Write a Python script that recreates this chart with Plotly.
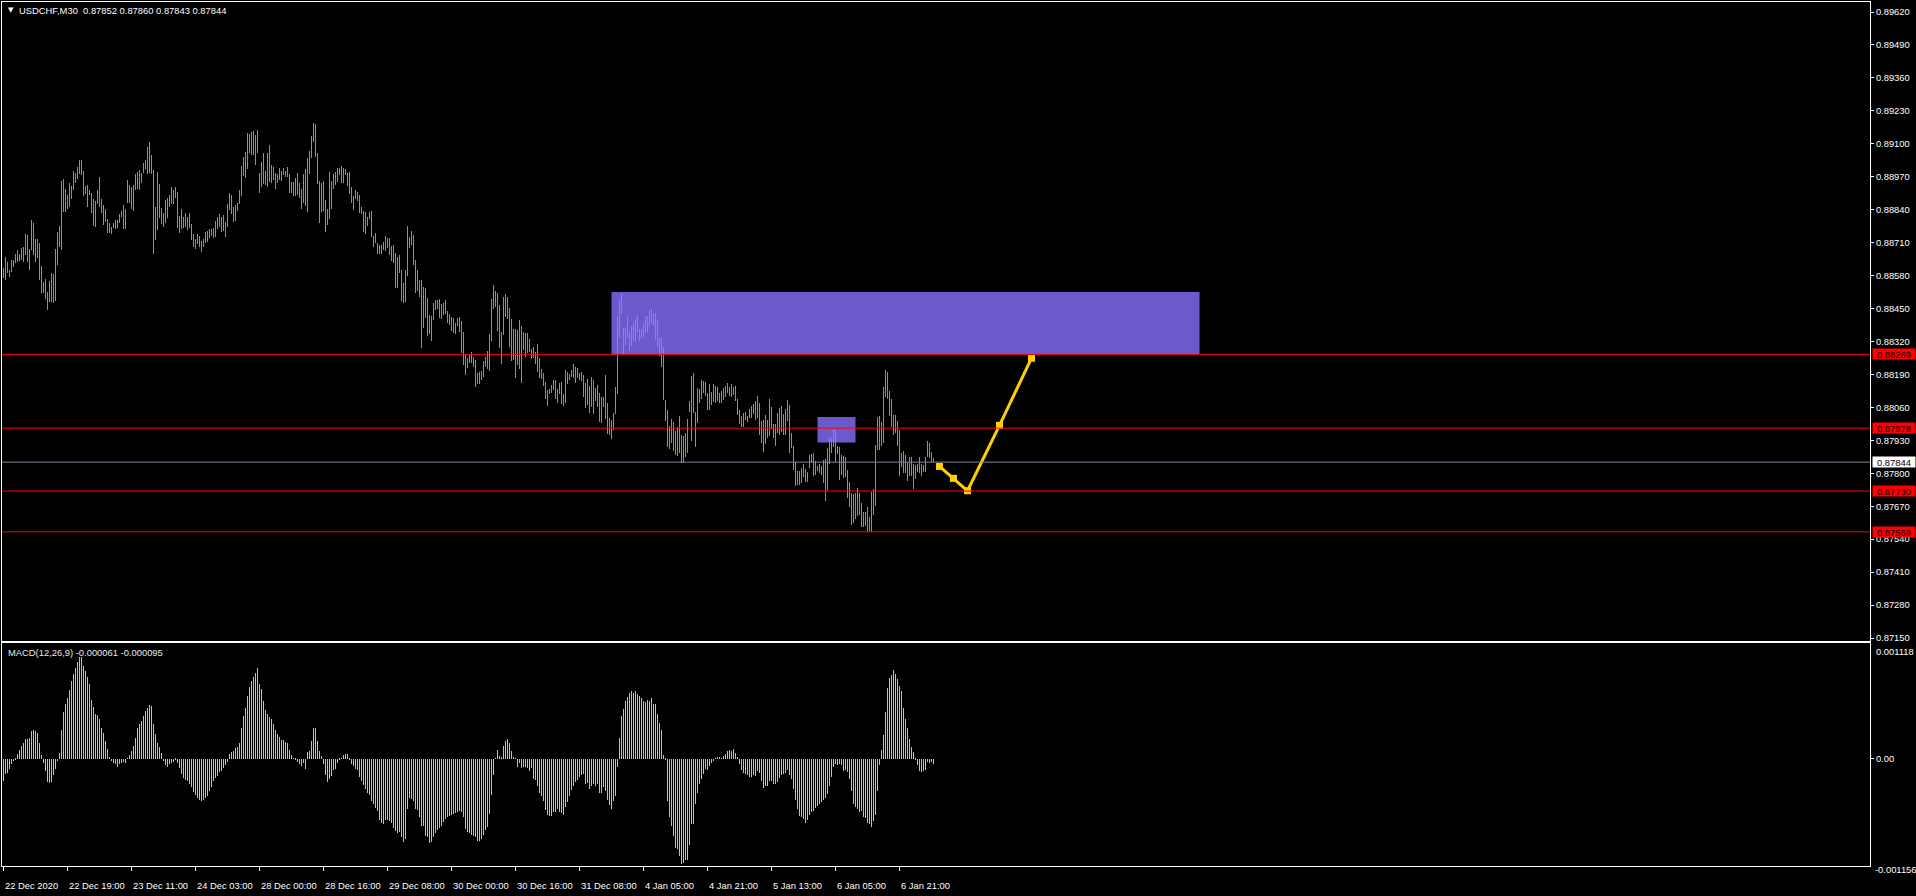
import plotly.graph_objects as go

# ---------------- data (USDCHF M30, bar index 0 = 22 Dec 2020 03:00) ----------------
HIGH = [
0.88608,0.88654,0.88635,0.88602,0.88641,0.88641,0.88665,0.88681,0.88665,0.88689,
0.88694,0.88744,0.88740,0.88683,0.88799,0.88786,0.88724,0.88723,0.88710,0.88618,
0.88556,0.88565,0.88516,0.88558,0.88591,0.88586,0.88685,0.88752,0.88775,0.88953,
0.88961,0.88921,0.88898,0.88946,0.88933,0.88992,0.88983,0.89009,0.89038,0.89038,
0.88992,0.88933,0.88937,0.88917,0.88904,0.88881,0.88875,0.88917,0.88970,0.88881,
0.88858,0.88844,0.88803,0.88789,0.88773,0.88789,0.88799,0.88799,0.88823,0.88833,
0.88858,0.88844,0.88957,0.88937,0.88928,0.88937,0.88981,0.88988,0.88996,0.88983,
0.89025,0.89036,0.89088,0.89107,0.89055,0.88996,0.88852,0.88990,0.88941,0.88845,
0.88828,0.88878,0.88885,0.88898,0.88931,0.88917,0.88928,0.88911,0.88815,0.88841,
0.88810,0.88828,0.88812,0.88828,0.88783,0.88746,0.88723,0.88744,0.88736,0.88718,
0.88723,0.88752,0.88757,0.88762,0.88762,0.88768,0.88796,0.88810,0.88825,0.88810,
0.88818,0.88792,0.88862,0.88904,0.88898,0.88852,0.88858,0.88867,0.88917,0.89012,
0.89046,0.89069,0.89141,0.89138,0.89148,0.89150,0.89134,0.89154,0.88986,0.89029,
0.89062,0.88994,0.89065,0.89095,0.89016,0.89009,0.88983,0.88981,0.89003,0.88992,
0.89003,0.88992,0.89007,0.88981,0.88950,0.88950,0.88966,0.88983,0.88946,0.88920,
0.88981,0.88999,0.89045,0.89073,0.89130,0.89183,0.89180,0.89065,0.88953,0.88944,
0.88954,0.88878,0.88841,0.88988,0.88953,0.88979,0.88988,0.89003,0.89003,0.89012,
0.89003,0.88999,0.88983,0.88990,0.88931,0.88894,0.88917,0.88911,0.88898,0.88852,
0.88836,0.88832,0.88812,0.88832,0.88836,0.88736,0.88749,0.88707,0.88700,0.88700,
0.88714,0.88736,0.88727,0.88727,0.88696,0.88700,0.88670,0.88654,0.88661,0.88604,
0.88552,0.88602,0.88775,0.88733,0.88757,0.88740,0.88641,0.88602,0.88562,0.88562,
0.88536,0.88530,0.88490,0.88424,0.88420,0.88470,0.88483,0.88483,0.88487,0.88466,
0.88473,0.88483,0.88441,0.88428,0.88415,0.88414,0.88391,0.88414,0.88418,0.88402,
0.88359,0.88269,0.88253,0.88267,
0.88278,0.88260,0.88247,0.88197,0.88201,0.88203,0.88244,0.88260,0.88284,0.88349,
0.88486,0.88543,0.88519,0.88510,0.88464,0.88359,0.88497,0.88507,0.88494,0.88452,
0.88408,0.88368,0.88369,0.88365,0.88405,0.88381,0.88357,0.88355,0.88352,0.88328,
0.88290,0.88299,0.88278,0.88310,0.88253,0.88213,0.88197,0.88161,0.88128,0.88132,
0.88148,0.88168,0.88168,0.88131,0.88155,0.88159,0.88113,0.88207,0.88201,0.88190,
0.88207,0.88231,0.88220,0.88216,0.88197,0.88199,0.88188,0.88157,0.88173,0.88144,
0.88178,0.88170,0.88135,0.88148,0.88118,0.88102,0.88102,0.88188,0.88076,0.88017,
0.88010,0.88039,0.88142,0.88420,0.88483,0.88507,0.88372,0.88373,0.88422,0.88359,
0.88381,0.88391,0.88410,0.88424,0.88370,0.88368,0.88389,0.88415,0.88420,0.88444,
0.88448,0.88427,0.88431,0.88405,0.88335,0.88332,0.88299,0.88089,0.88050,0.87986,
0.88013,0.88004,0.87968,0.87984,0.88026,0.87950,0.87947,0.87960,0.88013,0.88086,
0.88185,0.88194,0.88043,0.88135,0.88131,0.88168,0.88164,0.88161,0.88115,0.88152,
0.88122,0.88152,0.88144,0.88142,0.88115,0.88124,0.88135,0.88144,0.88155,0.88139,
0.88152,0.88142,0.88144,0.88092,0.88050,0.88026,0.88039,0.88043,0.88026,0.88052,
0.88065,0.88073,0.88086,0.88105,0.88078,0.88007,0.88010,0.88030,0.88010,0.88092,
0.88063,0.87994,0.87994,0.88036,0.88059,0.88065,0.88034,0.88052,0.88089,0.88069,
0.87960,0.87908,0.87846,0.87810,0.87810,0.87819,0.87836,0.87815,0.87806,0.87872,
0.87876,0.87879,0.87850,0.87829,0.87836,0.87829,0.87852,0.87855,0.87898,0.87944,
0.87938,0.87973,0.87971,0.87908,0.87905,0.87872,0.87868,0.87863,0.87813,0.87767,
0.87721,0.87718,0.87721,0.87740,0.87721,0.87681,0.87648,0.87648,0.87668,0.87626,
0.87727,0.87736,0.87911,0.88021,0.88026,0.88004,0.88142,0.88207,0.88201,0.88126,
0.88092,0.88030,0.88030,0.88007,0.87971,0.87879,0.87889,0.87872,0.87839,0.87863,
0.87865,0.87836,0.87833,0.87836,0.87865,0.87836,0.87833,0.87865,0.87929,0.87921,
0.87885,0.87860,
]

LOW = [
0.88569,0.88562,0.88589,0.88576,0.88595,0.88615,0.88628,0.88635,0.88639,0.88641,
0.88635,0.88661,0.88635,0.88602,0.88681,0.88661,0.88635,0.88648,0.88562,0.88512,
0.88512,0.88486,0.88444,0.88477,0.88477,0.88473,0.88481,0.88622,0.88694,0.88681,
0.88832,0.88832,0.88841,0.88849,0.88881,0.88917,0.88946,0.88963,0.88979,0.88977,
0.88894,0.88902,0.88849,0.88898,0.88828,0.88775,0.88773,0.88862,0.88852,0.88828,
0.88779,0.88792,0.88749,0.88749,0.88744,0.88766,0.88764,0.88766,0.88786,0.88812,
0.88764,0.88764,0.88867,0.88865,0.88841,0.88835,0.88917,0.88920,0.88917,0.88946,
0.88986,0.88999,0.88981,0.88983,0.88981,0.88665,0.88720,0.88760,0.88808,0.88783,
0.88773,0.88786,0.88806,0.88852,0.88861,0.88862,0.88885,0.88766,0.88749,0.88762,
0.88766,0.88773,0.88760,0.88766,0.88720,0.88691,0.88683,0.88704,0.88691,0.88674,
0.88694,0.88710,0.88714,0.88727,0.88736,0.88727,0.88733,0.88762,0.88773,0.88752,
0.88757,0.88733,0.88770,0.88839,0.88823,0.88792,0.88796,0.88836,0.88862,0.88894,
0.88973,0.88966,0.89002,0.89065,0.89054,0.89055,0.89016,0.89065,0.88907,0.88928,
0.88941,0.88937,0.88931,0.88950,0.88946,0.88957,0.88921,0.88946,0.88957,0.88954,
0.88977,0.88970,0.88970,0.88907,0.88904,0.88894,0.88894,0.88898,0.88888,0.88844,
0.88865,0.88854,0.88832,0.88979,0.89045,0.89108,0.89049,0.88940,0.88786,0.88832,
0.88835,0.88753,0.88779,0.88802,0.88841,0.88920,0.88937,0.88950,0.88977,0.88944,
0.88946,0.88977,0.88933,0.88902,0.88867,0.88839,0.88881,0.88875,0.88828,0.88825,
0.88753,0.88746,0.88775,0.88802,0.88731,0.88691,0.88707,0.88665,0.88665,0.88665,
0.88681,0.88678,0.88687,0.88661,0.88639,0.88628,0.88532,0.88532,0.88591,0.88481,
0.88473,0.88474,0.88579,0.88687,0.88700,0.88622,0.88512,0.88519,0.88497,0.88295,
0.88372,0.88411,0.88341,0.88349,0.88322,0.88405,0.88444,0.88447,0.88411,0.88407,
0.88424,0.88428,0.88391,0.88387,0.88362,0.88355,0.88349,0.88381,0.88359,0.88273,
0.88227,0.88188,0.88216,0.88234,
0.88236,0.88220,0.88142,0.88152,0.88152,0.88170,0.88181,0.88220,0.88210,0.88203,
0.88323,0.88447,0.88457,0.88362,0.88295,0.88231,0.88345,0.88418,0.88407,0.88297,
0.88244,0.88247,0.88177,0.88227,0.88210,0.88157,0.88286,0.88260,0.88273,0.88280,
0.88249,0.88253,0.88231,0.88201,0.88174,0.88173,0.88144,0.88092,0.88065,0.88111,
0.88115,0.88128,0.88092,0.88076,0.88113,0.88073,0.88065,0.88076,0.88152,0.88168,
0.88178,0.88174,0.88155,0.88177,0.88170,0.88165,0.88100,0.88056,0.88069,0.88036,
0.88060,0.88034,0.88086,0.88063,0.88004,0.88000,0.88063,0.88013,0.87955,0.87951,
0.87934,0.87971,0.88034,0.88113,0.88334,0.88428,0.88270,0.88306,0.88332,0.88284,
0.88302,0.88323,0.88319,0.88359,0.88323,0.88328,0.88339,0.88352,0.88359,0.88378,
0.88394,0.88381,0.88326,0.88297,0.88263,0.88220,0.88089,0.88007,0.87902,0.87894,
0.87921,0.87889,0.87872,0.87868,0.87881,0.87839,0.87839,0.87865,0.87881,0.88043,
0.87929,0.88039,0.87905,0.87997,0.88076,0.88092,0.88115,0.88105,0.88050,0.88050,
0.88069,0.88082,0.88076,0.88085,0.88076,0.88076,0.88089,0.88100,0.88115,0.88105,
0.88102,0.88109,0.88086,0.88030,0.87994,0.87981,0.87984,0.88010,0.88004,0.88017,
0.88017,0.88034,0.88010,0.88017,0.87951,0.87921,0.87885,0.87915,0.87938,0.87947,
0.87973,0.87938,0.87908,0.87957,0.87951,0.87964,0.87951,0.87951,0.88007,0.87881,
0.87898,0.87813,0.87750,0.87754,0.87754,0.87760,0.87784,0.87767,0.87767,0.87819,
0.87839,0.87789,0.87793,0.87810,0.87800,0.87793,0.87760,0.87692,0.87731,0.87836,
0.87879,0.87905,0.87846,0.87876,0.87773,0.87793,0.87780,0.87787,0.87701,0.87668,
0.87596,0.87602,0.87618,0.87631,0.87635,0.87589,0.87589,0.87592,0.87570,0.87570,
0.87570,0.87635,0.87671,0.87892,0.87892,0.87908,0.87918,0.88100,0.88092,0.88026,
0.87984,0.87951,0.87960,0.87908,0.87789,0.87823,0.87800,0.87802,0.87771,0.87789,
0.87789,0.87736,0.87776,0.87806,0.87800,0.87789,0.87806,0.87806,0.87863,0.87859,
0.87846,0.87843,
]

MACD = [
-0.000245,-0.000172,-0.000154,-0.000117,-0.000062,-0.000026,-0.000007,0.000048,0.000091,0.000139,
0.000168,0.000219,0.000212,0.000223,0.000303,0.000311,0.000303,0.000285,0.000168,0.000037,
-0.000044,-0.000135,-0.000263,-0.000274,-0.000263,-0.000179,-0.000117,-0.000026,0.000058,0.000311,
0.000505,0.000596,0.000662,0.000749,0.000845,0.000932,0.000998,0.001053,0.001118,0.001108,
0.001016,0.000962,0.000896,0.000815,0.000640,0.000567,0.000486,0.000479,0.000431,0.000340,
0.000285,0.000194,0.000102,0.000018,-0.000026,-0.000044,-0.000062,-0.000091,-0.000055,-0.000044,
-0.000033,-0.000044,0.000004,0.000037,0.000084,0.000139,0.000230,0.000333,0.000377,0.000413,
0.000468,0.000523,0.000559,0.000585,0.000578,0.000377,0.000267,0.000165,0.000121,0.000055,
-0.000026,-0.000069,-0.000088,-0.000062,-0.000044,-0.000033,-0.000007,-0.000051,-0.000106,-0.000165,
-0.000216,-0.000238,-0.000252,-0.000282,-0.000318,-0.000362,-0.000399,-0.000428,-0.000453,-0.000464,
-0.000457,-0.000435,-0.000409,-0.000355,-0.000311,-0.000252,-0.000216,-0.000190,-0.000143,-0.000135,
-0.000099,-0.000069,-0.000033,0.000048,0.000066,0.000084,0.000113,0.000128,0.000172,0.000333,
0.000468,0.000559,0.000687,0.000786,0.000845,0.000896,0.000943,0.000991,0.000815,0.000760,
0.000632,0.000530,0.000486,0.000457,0.000431,0.000377,0.000311,0.000274,0.000238,0.000205,
0.000201,0.000186,0.000165,0.000091,0.000040,0.000002,-0.000007,-0.000033,-0.000055,-0.000080,
-0.000044,-0.000110,0.000066,0.000084,0.000194,0.000340,0.000340,0.000194,0.000077,0.000029,
-0.000062,-0.000183,-0.000263,-0.000227,-0.000197,-0.000128,-0.000117,-0.000044,-0.000018,-0.000004,
0.000040,0.000048,0.000048,-0.000007,-0.000062,-0.000080,-0.000117,-0.000128,-0.000208,-0.000245,
-0.000292,-0.000336,-0.000373,-0.000399,-0.000464,-0.000494,-0.000545,-0.000581,-0.000676,-0.000702,
-0.000713,-0.000676,-0.000676,-0.000684,-0.000702,-0.000757,-0.000793,-0.000812,-0.000801,-0.000866,
-0.000921,-0.000885,-0.000556,-0.000428,-0.000446,-0.000464,-0.000556,-0.000567,-0.000647,-0.000739,
-0.000739,-0.000848,-0.000866,-0.000932,-0.000921,-0.000866,-0.000812,-0.000786,-0.000757,-0.000739,
-0.000691,-0.000665,-0.000640,-0.000629,-0.000618,-0.000611,-0.000603,-0.000592,-0.000581,-0.000592,
-0.000640,-0.000768,-0.000804,-0.000815,-0.000837,-0.000848,-0.000859,-0.000903,-0.000903,-0.000885,
-0.000837,-0.000786,-0.000749,-0.000611,-0.000399,-0.000179,-0.000004,0.000091,0.000026,0.000018,
0.000139,0.000194,0.000212,0.000168,0.000084,0.000011,0.000004,-0.000091,-0.000044,-0.000106,
-0.000091,-0.000091,-0.000106,-0.000135,-0.000099,-0.000227,-0.000238,-0.000300,-0.000373,-0.000409,
-0.000464,-0.000567,-0.000618,-0.000629,-0.000629,-0.000592,-0.000592,-0.000556,-0.000592,-0.000600,
-0.000618,-0.000537,-0.000472,-0.000409,-0.000347,-0.000300,-0.000263,-0.000238,-0.000208,-0.000179,
-0.000172,-0.000282,-0.000274,-0.000336,-0.000300,-0.000282,-0.000300,-0.000282,-0.000373,-0.000373,
-0.000318,-0.000355,-0.000457,-0.000508,-0.000556,-0.000464,-0.000409,-0.000091,0.000223,0.000468,
0.000541,0.000632,0.000676,0.000713,0.000742,0.000713,0.000742,0.000706,0.000687,0.000662,
0.000632,0.000625,0.000640,0.000632,0.000662,0.000596,0.000596,0.000486,0.000388,0.000311,
0.000037,-0.000007,-0.000464,-0.000640,-0.000739,-0.000848,-0.000983,-0.000994,-0.001068,-0.001156,
-0.001141,-0.001115,-0.001115,-0.000947,-0.000713,-0.000720,-0.000501,-0.000373,-0.000282,-0.000227,
-0.000165,-0.000117,-0.000128,-0.000080,-0.000044,-0.000026,-0.000004,0.000011,0.000011,0.000004,
0.000029,0.000048,0.000077,0.000091,0.000084,0.000102,0.000062,0.000018,-0.000055,-0.000128,
-0.000154,-0.000165,-0.000179,-0.000201,-0.000201,-0.000179,-0.000190,-0.000135,-0.000154,-0.000245,
-0.000325,-0.000300,-0.000300,-0.000245,-0.000252,-0.000282,-0.000282,-0.000263,-0.000216,-0.000179,
-0.000165,-0.000154,-0.000128,-0.000179,-0.000227,-0.000336,-0.000457,-0.000556,-0.000629,-0.000640,
-0.000665,-0.000702,-0.000676,-0.000618,-0.000592,-0.000574,-0.000545,-0.000519,-0.000494,-0.000472,
-0.000457,-0.000428,-0.000391,-0.000300,-0.000201,-0.000091,-0.000062,-0.000069,-0.000062,-0.000069,
-0.000135,-0.000128,-0.000143,-0.000227,-0.000355,-0.000501,-0.000530,-0.000556,-0.000592,-0.000581,
-0.000647,-0.000654,-0.000702,-0.000720,-0.000749,-0.000684,-0.000618,-0.000355,-0.000069,0.000091,
0.000260,0.000505,0.000771,0.000888,0.000918,0.000969,0.000925,0.000870,0.000797,0.000742,
0.000559,0.000431,0.000333,0.000212,0.000128,0.000066,-0.000018,-0.000069,-0.000135,-0.000143,
-0.000135,-0.000128,-0.000033,-0.000044,-0.000033,-0.000061,
]

LEVELS = [0.88269, 0.87978, 0.87730, 0.87569]          # red horizontal lines
BID = 0.87844                                           # current price line
ZONE_X0 = [304, 407]                                    # rectangles (bar index)
ZONE_X1 = [598, 426]
ZONE_LO = [0.88269, 0.87921]
ZONE_HI = [0.88515, 0.88022]
PROJ_X = [468, 475, 482, 498, 514]                      # projected path
PROJ_Y = [0.87827, 0.87780, 0.87731, 0.87989, 0.88254]
PRICE_TICKS = [0.87150, 0.87280, 0.87410, 0.87540, 0.87670, 0.87800, 0.87930,
               0.88060, 0.88190, 0.88320, 0.88450, 0.88580, 0.88710, 0.88840,
               0.88970, 0.89100, 0.89230, 0.89360, 0.89490, 0.89620]
TIME_IDX = [0, 32, 64, 96, 128, 160, 192, 224, 256, 288, 320, 352, 384, 416, 448]
TIME_LABELS = ["22 Dec 2020", "22 Dec 19:00", "23 Dec 11:00", "24 Dec 03:00",
               "28 Dec 00:00", "28 Dec 16:00", "29 Dec 08:00", "30 Dec 00:00",
               "30 Dec 16:00", "31 Dec 08:00", "4 Jan 05:00", "4 Jan 21:00",
               "5 Jan 13:00", "6 Jan 05:00", "6 Jan 21:00"]
MACD_MAX_LABEL = "0.001118"
MACD_MIN_LABEL = "-0.001156"
TITLE = "USDCHF,M30  0.87852 0.87860 0.87843 0.87844"
MACD_TITLE = "MACD(12,26,9) -0.000061 -0.000095"

# ---------------- styling ----------------
FONT = "Liberation Sans"
FS = 9.4
GREEN = "#1ee01e"
W, H = 1916, 896
ML, MR, MT, MB = 2, 46, 2, 30

idx = list(range(len(HIGH)))
spans = [h - l for h, l in zip(HIGH, LOW)]

fig = go.Figure()
fig.add_trace(go.Bar(x=idx, y=spans, base=LOW, width=0.5,
                     marker=dict(color=GREEN, line=dict(width=0)),
                     xaxis="x", yaxis="y", hoverinfo="skip"))
fig.add_trace(go.Bar(x=idx, y=MACD, width=0.5,
                     marker=dict(color="#c0c0c0", line=dict(width=0)),
                     xaxis="x2", yaxis="y2", hoverinfo="skip"))
fig.add_trace(go.Scatter(x=PROJ_X, y=PROJ_Y, mode="lines+markers",
                         line=dict(color="#ffd000", width=3),
                         marker=dict(symbol="square", size=7, color="#ffd000"),
                         xaxis="x", yaxis="y", hoverinfo="skip"))

shapes = []
for x0, x1, lo, hi in zip(ZONE_X0, ZONE_X1, ZONE_LO, ZONE_HI):
    shapes.append(dict(type="rect", xref="x", yref="y", x0=x0, x1=x1, y0=lo, y1=hi,
                       fillcolor="#6a5acd", line=dict(width=0), layer="below"))
for lv in LEVELS:
    shapes.append(dict(type="line", xref="x domain", yref="y", x0=0, x1=1, y0=lv, y1=lv,
                       line=dict(color="#ff0000", width=1)))
shapes.append(dict(type="line", xref="x domain", yref="y", x0=0, x1=1, y0=BID, y1=BID,
                   line=dict(color="#778899", width=1)))

ann = []
for lv in LEVELS:
    ann.append(dict(xref="paper", yref="y", x=1, y=lv, xanchor="left", yanchor="middle",
                    xshift=2, text=f"{lv:.5f}", showarrow=False, bgcolor="#ff0000",
                    borderpad=0, width=42, height=10, align="center",
                    font=dict(family=FONT, size=FS, color="#000000")))
ann.append(dict(xref="paper", yref="y", x=1, y=BID, xanchor="left", yanchor="middle",
                xshift=2, text=f"{BID:.5f}", showarrow=False, bgcolor="#ffffff",
                borderpad=0, width=42, height=10, align="center",
                font=dict(family=FONT, size=FS, color="#000000")))
ann.append(dict(xref="paper", yref="paper", x=0, y=1, xanchor="left", yanchor="middle",
                xshift=4, yshift=-8, text="▼", showarrow=False,
                font=dict(family="DejaVu Sans", size=7, color="#ffffff")))
ann.append(dict(xref="paper", yref="paper", x=0, y=1, xanchor="left", yanchor="middle",
                xshift=15, yshift=-8, text=TITLE, showarrow=False,
                font=dict(family=FONT, size=FS, color="#ffffff")))
ann.append(dict(xref="paper", yref="y2 domain", x=0, y=1, xanchor="left", yanchor="middle",
                xshift=4, yshift=-9, text=MACD_TITLE, showarrow=False,
                font=dict(family=FONT, size=FS, color="#e8e8e8")))
ann.append(dict(xref="paper", yref="y2 domain", x=1, y=1, xanchor="left", yanchor="middle",
                xshift=4, yshift=-8, text=MACD_MAX_LABEL, showarrow=False,
                font=dict(family=FONT, size=FS, color="#ffffff")))
ann.append(dict(xref="paper", yref="y2 domain", x=1, y=0, xanchor="left", yanchor="middle",
                xshift=3, yshift=-3, text=MACD_MIN_LABEL, showarrow=False,
                font=dict(family=FONT, size=FS, color="#ffffff")))
for ti, tl in zip(TIME_IDX, TIME_LABELS):
    ann.append(dict(xref="x2", yref="paper", x=ti, y=0, xanchor="left", yanchor="middle",
                    xshift=-1, yshift=-19, text=tl, showarrow=False,
                    font=dict(family=FONT, size=FS, color="#ffffff")))

plot_h = H - MT - MB
main_dom = [(866 - 641) / plot_h, 1.0]
macd_dom = [0.0, (866 - 643) / plot_h]
xr = [-0.75, -0.75 + (W - ML - MR) / 2]

axis_common = dict(showgrid=False, zeroline=False, showline=True, mirror=True,
                   linecolor="#ffffff", linewidth=1, automargin=False)

fig.update_layout(
    width=W, height=H, margin=dict(l=ML, r=MR, t=MT, b=MB, pad=0),
    paper_bgcolor="#000000", plot_bgcolor="#000000",
    showlegend=False, barmode="overlay", bargap=0,
    shapes=shapes, annotations=ann,
    xaxis=dict(axis_common, domain=[0, 1], range=xr, anchor="y",
               showticklabels=False, ticks=""),
    yaxis=dict(axis_common, domain=main_dom, range=[0.871382, 0.896595], side="right",
               anchor="x", tickvals=PRICE_TICKS, ticktext=[f"{v:.5f}" for v in PRICE_TICKS],
               ticks="outside", ticklen=3, tickcolor="#ffffff",
               tickfont=dict(family=FONT, size=FS, color="#ffffff")),
    xaxis2=dict(axis_common, domain=[0, 1], range=xr, anchor="y2", matches=None,
                tickvals=TIME_IDX, ticks="outside", ticklen=4, tickcolor="#ffffff",
                showticklabels=False),
    yaxis2=dict(axis_common, domain=macd_dom, range=[-0.0011791, 0.0012668], side="right",
                anchor="x2", tickvals=[0], ticktext=["0.00"], ticks="outside", ticklen=3,
                tickcolor="#ffffff", tickfont=dict(family=FONT, size=FS, color="#ffffff")),
)

fig.write_html("out.html", config={"displayModeBar": False},
               post_script="document.body.style.margin='0';document.body.style.overflow='hidden';document.body.style.background='#000';")
